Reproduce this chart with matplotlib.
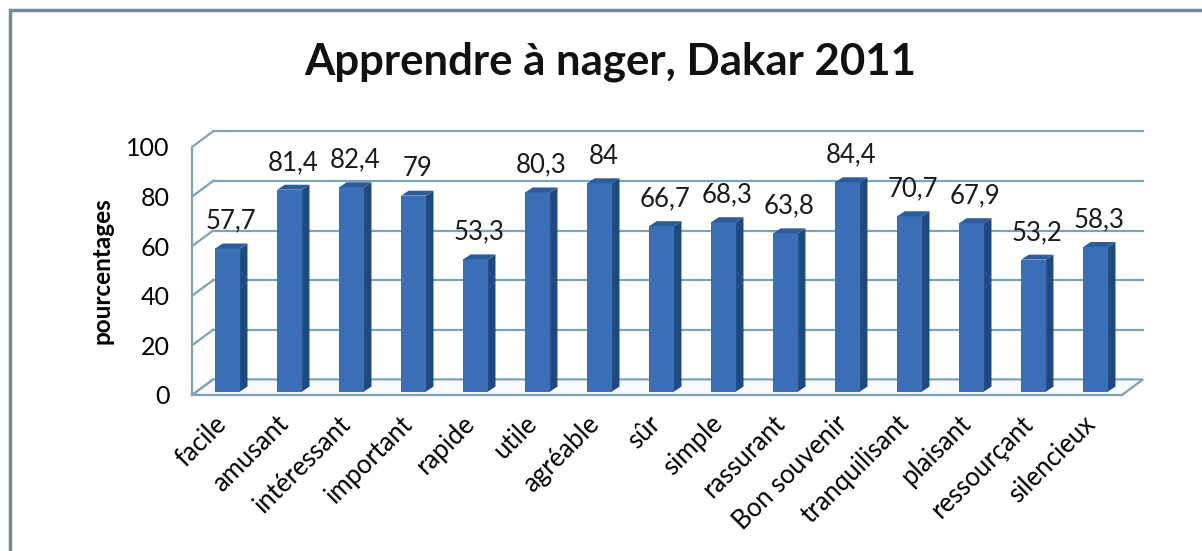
#!/usr/bin/env python3
"""Apprendre a nager, Dakar 2011 - fake 3D column chart."""

import matplotlib
matplotlib.use('Agg')
import matplotlib.pyplot as plt
from matplotlib.patches import Polygon, Rectangle
import numpy as np

categories = ['facile', 'amusant', 'intéressant', 'important', 'rapide', 'utile',
              'agréable', 'sûr', 'simple', 'rassurant', 'Bon souvenir',
              'tranquilisant', 'plaisant', 'ressourçant', 'silencieux']
values = [57.7, 81.4, 82.4, 79, 53.3, 80.3, 84, 66.7, 68.3, 63.8, 84.4,
          70.7, 67.9, 53.2, 58.3]
yticks = [0, 20, 40, 60, 80, 100]

# Color scheme
FRONT = '#3a6fb7'
SIDE = '#1e4a80'
TOP = '#2c5c9a'
GRID = '#7ba4b8'
BORDER = '#6f8c98'

plt.rcParams['font.family'] = ['Lato', 'DejaVu Sans']

# 3D depth of the plot box (x in category units, y in value units)
DX, DY = 0.34, 6.3
# bar placement inside the box and bar depth
F = 0.22
BW = 0.40
BDX, BDY = 0.12, 2.0

fig = plt.figure(figsize=(12.02, 5.51), dpi=100)
fig.patch.set_facecolor('white')

# outer frame
fig.add_artist(Rectangle((10 / 1202, -0.05), 1.2, (551 - 10) / 551 + 0.05,
                         transform=fig.transFigure, fill=False,
                         edgecolor=BORDER, linewidth=2.5))

ax = fig.add_axes([192 / 1202, (551 - 395) / 551, 930 / 1202, 248 / 551])
n = len(categories)
x = np.arange(n)
ax.set_xlim(-0.5, n - 0.5)
ax.set_ylim(0, 100)
for s in ax.spines.values():
    s.set_visible(False)
ax.patch.set_alpha(0)

x0, x1 = -0.5, n - 0.5

# floor
ax.add_patch(Polygon([(x0, 0), (x1, 0), (x1 + DX, DY), (x0 + DX, DY)],
                     closed=True, facecolor='#f7f9fa', edgecolor=GRID,
                     linewidth=1.6, clip_on=False, zorder=1))
# left wall edge + gridlines on side and back walls
ax.plot([x0, x0], [0, 100], color=GRID, lw=1.6, clip_on=False, zorder=1)
for v in yticks:
    ax.plot([x0, x0 + DX], [v, v + DY], color=GRID, lw=1.6, clip_on=False, zorder=1)
    if v > 0:
        ax.plot([x0 + DX, x1 + DX], [v + DY, v + DY], color=GRID, lw=1.6,
                clip_on=False, zorder=1)

# bars: front face through ax.bar, side and top faces as polygons
bx = x + F * DX
by = F * DY
bars = ax.bar(bx, values, BW, bottom=by, color=FRONT, zorder=3, clip_on=False)
for bar, val in zip(bars, values):
    left = bar.get_x()
    right = left + bar.get_width()
    top = by + val
    ax.add_patch(Polygon([(right, by), (right + BDX, by + BDY),
                          (right + BDX, top + BDY), (right, top)],
                         closed=True, facecolor=SIDE, edgecolor='none',
                         zorder=3, clip_on=False))
    ax.add_patch(Polygon([(left, top), (right, top), (right + BDX, top + BDY),
                          (left + BDX, top + BDY)],
                         closed=True, facecolor=TOP, edgecolor='none',
                         zorder=3, clip_on=False))
    lab = f'{val:g}'.replace('.', ',')
    ax.annotate(lab, (left + bar.get_width() / 2 + BDX / 2, top + BDY),
                xytext=(0, 7), textcoords='offset points', ha='center',
                va='bottom', fontsize=18.5, color='#1a1a1a', zorder=4)

ax.set_yticks(yticks)
ax.set_yticklabels([str(v) for v in yticks], fontsize=18)
ax.tick_params(axis='y', length=0, pad=16)
ax.set_xticks(x)
ax.set_xticklabels(categories, fontsize=18.5, rotation=45, ha='right',
                   va='center', rotation_mode='anchor')
ax.tick_params(axis='x', length=0, pad=18)
ax.set_ylabel('pourcentages', fontsize=17.5, fontweight='bold', labelpad=9)

fig.text(0.508, 0.888, 'Apprendre à nager, Dakar 2011', ha='center',
         va='center', fontsize=31.5, fontweight='bold', color='#111111')

plt.savefig('out.png', dpi=100)
plt.close()
